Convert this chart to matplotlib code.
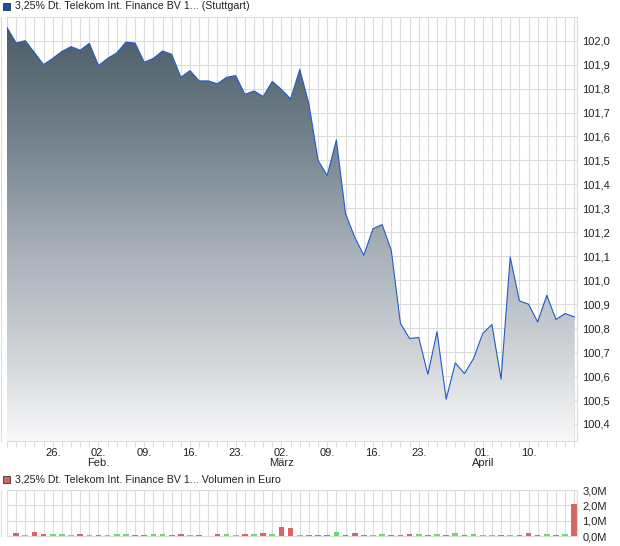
import matplotlib

matplotlib.use("Agg")
import matplotlib.pyplot as plt
import numpy as np
from matplotlib.colors import LinearSegmentedColormap
from matplotlib.patches import Polygon, Rectangle

plt.rcParams["font.family"] = ["Liberation Sans", "DejaVu Sans"]

# Handelstage ab 19.01. (Wochenenden und Feiertage ausgelassen)
price = [
    102.055, 101.99, 102.0, 101.95, 101.90, 101.926, 101.955, 101.975, 101.96, 101.989,
    101.896, 101.926, 101.949, 101.994, 101.99, 101.91, 101.926, 101.957, 101.943, 101.847,
    101.875, 101.832, 101.832, 101.82, 101.847, 101.854, 101.776, 101.79, 101.767, 101.83,
    101.796, 101.757, 101.88, 101.736, 101.50, 101.4375, 101.586, 101.278, 101.18, 101.104,
    101.215, 101.232, 101.125, 100.82, 100.757, 100.761, 100.607, 100.785, 100.503, 100.655,
    100.61, 100.674, 100.778, 100.815, 100.587, 101.097, 100.914, 100.90, 100.826, 100.9375,
    100.836, 100.861, 100.847,
]
# Volumen in Mio. Euro
volume = [
    0.0, 0.19, 0.06, 0.28, 0.13, 0.13, 0.13, 0.06, 0.13, 0.06,
    0.06, 0.06, 0.13, 0.13, 0.06, 0.06, 0.13, 0.13, 0.06, 0.13,
    0.06, 0.06, 0.03, 0.13, 0.13, 0.06, 0.13, 0.13, 0.19, 0.13,
    0.58, 0.52, 0.06, 0.06, 0.06, 0.06, 0.26, 0.06, 0.19, 0.06,
    0.06, 0.13, 0.06, 0.06, 0.13, 0.13, 0.06, 0.13, 0.06, 0.19,
    0.06, 0.13, 0.06, 0.06, 0.06, 0.06, 0.06, 0.19, 0.06, 0.13,
    0.06, 0.13, 2.10,
]
tick_pos = [5, 10, 15, 20, 25, 30, 35, 40, 45, 52, 57]
tick_labels = ["26.", "02.\nFeb.", "09.", "16.", "23.", "02.\nMärz", "09.", "16.", "23.",
               "01.\nApril", "10."]
price_ticks = [100.4, 100.5, 100.6, 100.7, 100.8, 100.9, 101.0, 101.1, 101.2, 101.3,
               101.4, 101.5, 101.6, 101.7, 101.8, 101.9, 102.0]
vol_ticks = [0, 1, 2, 3]

TITLE = "3,25% Dt. Telekom Int. Finance BV 1... (Stuttgart)"
VOL_TITLE = "3,25% Dt. Telekom Int. Finance BV 1... Volumen in Euro"

W, H = 620, 546
GRID = "#dcdcdc"
LINE = "#1f5cc8"
RED = "#d96464"
GREEN = "#66dd66"
GREY = "#c8c8c8"

fig = plt.figure(figsize=(W / 100, H / 100), dpi=100)


def px_axes(left, top, right, bottom):
    return fig.add_axes([left / W, 1 - bottom / H, (right - left) / W, (bottom - top) / H])


def style_axes(ax, x_max):
    ax.set_xlim(0, x_max)
    ax.set_xticks(np.arange(len(price)), minor=True)
    ax.grid(True, which="both", color=GRID, lw=0.8)
    ax.set_axisbelow(True)
    for s in ax.spines.values():
        s.set_color(GRID)
        s.set_linewidth(0.8)
    ax.spines["left"].set_position(("outward", 4))
    ax.yaxis.tick_right()
    ax.tick_params(axis="y", which="both", length=0, pad=4, labelsize=8, colors="#222222")
    ax.tick_params(axis="x", which="both", length=4, width=0.8, color=GRID, direction="out")


x = np.arange(len(price))
x_max = 62.3
y_min, y_max = 100.329, 102.1

# Kurs
ax = px_axes(7, 16.7, 577, 441)
style_axes(ax, x_max)
cmap = LinearSegmentedColormap.from_list(
    "fill",
    [(0.0, "#475965"), (0.3, "#75848e"), (0.55, "#a8b0b8"), (0.65, "#b8bec6"),
     (0.8, "#d1d5d8"), (1.0, "#f8f8f9")],
)
grad = np.linspace(0, 1, 256).reshape(-1, 1)
im = ax.imshow(grad, extent=[0, x_max, y_min, y_max], aspect="auto", cmap=cmap,
               origin="upper", zorder=1)
poly = Polygon([(0, y_min)] + list(zip(x, price)) + [(x[-1], y_min)],
               closed=True, facecolor="none", edgecolor="none")
ax.add_patch(poly)
im.set_clip_path(poly)
ax.plot(x, price, color=LINE, lw=0.8, zorder=3)
ax.set_ylim(y_min, y_max)
ax.set_yticks(price_ticks)
ax.set_yticklabels([f"{v:.1f}".replace(".", ",") for v in price_ticks])
ax.set_xticks(tick_pos)
ax.set_xticklabels(tick_labels, fontsize=8, color="#222222", linespacing=1.05)
ax.tick_params(axis="x", which="major", pad=1)

# Volumen
diff = np.diff(price, prepend=price[0])
colors = [GREEN if d > 0 else RED if d < 0 else GREY for d in diff]
axv = px_axes(7, 490, 577, 536)
style_axes(axv, x_max)
axv.bar(x, volume, width=0.62, color=colors, zorder=2, antialiased=False)
axv.set_ylim(0, 3.0)
axv.set_yticks(vol_ticks)
axv.set_yticklabels([f"{v:.1f}M".replace(".", ",") for v in vol_ticks])
axv.set_xticks([])
axv.tick_params(axis="x", which="minor", length=0)

# Legenden-Titel
for top, face, text in [(2.5, "#1a4fa8", TITLE), (476, RED, VOL_TITLE)]:
    fig.add_artist(Rectangle((3 / W, 1 - (top + 7) / H), 7 / W, 7 / H,
                             transform=fig.transFigure, facecolor=face,
                             edgecolor="#333333", lw=0.6))
    fig.text(15 / W, 1 - (top + 3.8) / H, text, fontsize=7.7, va="center", ha="left",
             color="#222222")

fig.savefig("out.png", dpi=100)
